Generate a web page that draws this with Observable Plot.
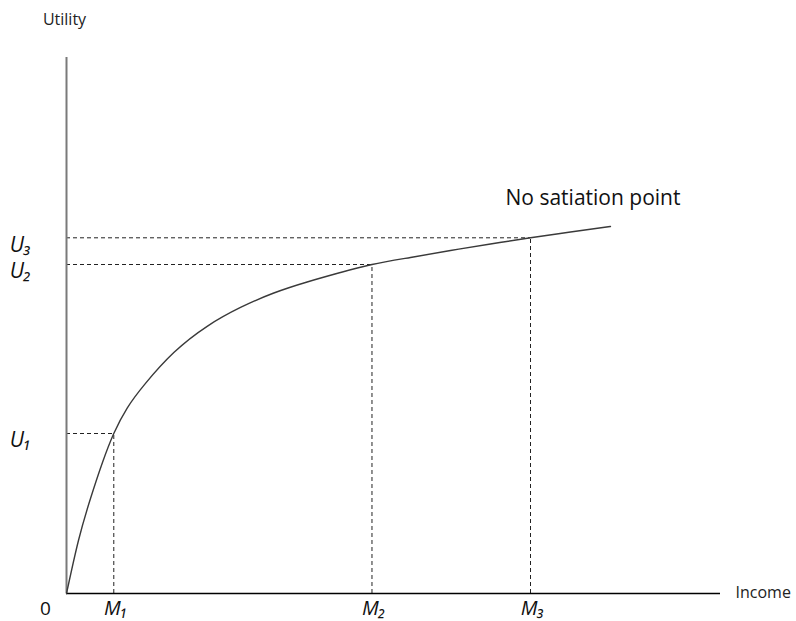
<!DOCTYPE html>
<html>
<head>
<meta charset="utf-8">
<script src="https://cdn.jsdelivr.net/npm/d3@7"></script>
<script src="https://cdn.jsdelivr.net/npm/@observablehq/plot@0.6"></script>
<style>
  html, body { margin: 0; padding: 0; background: #fff; }
  #chart svg { display: block; }
</style>
</head>
<body>
<div id="chart"></div>
<script>
// Utility curve (income, utility) in arbitrary units
const incomeValues  = [0, 1.83, 3.67, 5.50, 7.23, 9.28, 12.08, 16.41, 21.51, 26.61, 31.70, 36.80, 41.90, 46.71, 52.60, 58.72, 64.83, 70.95, 77.06, 83.18];
const utilityValues = [0, 9.89, 17.72, 24.44, 29.85, 34.60, 39.20, 44.95, 49.85, 53.36, 56.06, 58.12, 59.89, 61.38, 62.69, 63.99, 65.21, 66.36, 67.44, 68.47];

// Reference points
const refLabelsM = ["M₁", "M₂", "M₃"];
const refLabelsU = ["U₁", "U₂", "U₃"];
const refIncome  = [7.23, 46.71, 70.95];
const refUtility = [29.85, 61.38, 66.36];

const curve = incomeValues.map((x, i) => ({x, y: utilityValues[i]}));
const refs = refIncome.map((x, i) => ({x, y: refUtility[i], m: refLabelsM[i], u: refLabelsU[i]}));

const font = "'Open Sans', 'Noto Sans', sans-serif";

const chart = Plot.plot({
  width: 796,
  height: 621,
  marginLeft: 66,
  marginRight: 76,
  marginTop: 57,
  marginBottom: 28,
  x: {domain: [0, 100], axis: null},
  y: {domain: [0, 100], axis: null},
  style: {background: "#fff", fontFamily: font},
  marks: [
    // dashed guides
    Plot.ruleY(refs, {y: "y", x1: 0, x2: "x", stroke: "#222", strokeWidth: 1, strokeDasharray: "4,3"}),
    Plot.ruleX(refs, {x: "x", y1: 0, y2: "y", stroke: "#222", strokeWidth: 1, strokeDasharray: "4,3"}),
    // axes
    Plot.ruleX([0], {y1: 0, y2: 100, stroke: "#7a7a7a", strokeWidth: 2}),
    Plot.ruleY([0], {x1: 0, x2: 100, stroke: "#000", strokeWidth: 1.5}),
    // utility curve
    Plot.line(curve, {x: "x", y: "y", curve: "natural", stroke: "#3a3a3a", strokeWidth: 1.4}),
    // labels
    Plot.text(refs, {x: 0, y: "y", text: "u", dx: -46, dy: 7, fontSize: 21, fontStyle: "italic", fill: "#111", textAnchor: "middle"}),
    Plot.text(refs, {x: "x", y: 0, text: "m", dx: 2, dy: 15, fontSize: 20, fontStyle: "italic", fill: "#111", textAnchor: "middle"}),
    Plot.text(["0"], {x: 0, y: 0, text: d => d, dx: -21, dy: 15, fontSize: 19, fill: "#111", textAnchor: "middle"}),
    Plot.text(["Income"], {x: 100, y: 0, text: d => d, dx: 15, dy: -1, fontSize: 16, fill: "#222", textAnchor: "start"}),
    Plot.text(["Utility"], {x: 0, y: 100, text: d => d, dx: -2, dy: -38, fontSize: 16, fill: "#222", textAnchor: "middle"}),
    Plot.text(["No satiation point"], {x: refIncome[2], y: refUtility[2], text: d => d, dx: -25, dy: -40, fontSize: 21, fill: "#111", textAnchor: "start"})
  ]
});
document.getElementById("chart").appendChild(chart);
</script>
</body>
</html>
